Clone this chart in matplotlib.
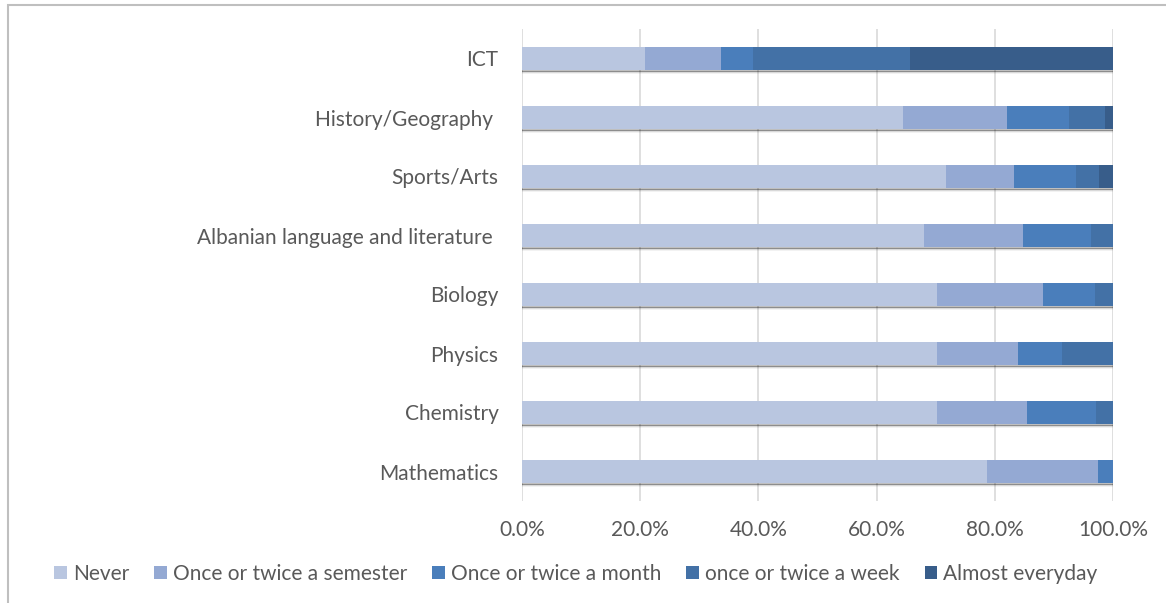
import numpy as np
import matplotlib.pyplot as plt
from matplotlib.patches import Rectangle

subjects = ["Mathematics", "Chemistry", "Physics", "Biology",
            "Albanian language and literature ", "Sports/Arts",
            "History/Geography ", "ICT"]
series_names = ["Never", "Once or twice a semester", "Once or twice a month",
                "once or twice a week", "Almost everyday"]

# shares in %, order follows `subjects`
never    = [78.6, 70.3, 70.3, 70.3, 68.1, 71.7, 64.5, 20.8]
semester = [18.9, 15.1, 13.6, 17.8, 16.6, 11.5, 17.6, 12.8]
month    = [2.5, 11.8, 7.4, 8.8, 11.6, 10.5, 10.5, 5.5]
week     = [0.0, 2.8, 8.7, 3.1, 3.7, 3.9, 6.0, 26.6]
everyday = [0.0, 0.0, 0.0, 0.0, 0.0, 2.4, 1.4, 34.3]

colors = ["#B9C6E0", "#94A9D3", "#4A7EBB", "#4371A6", "#385D8A"]
TXT = "#595959"
FS = 15

plt.rcParams['font.family'] = ['Lato', 'DejaVu Sans']

fig = plt.figure(figsize=(11.66, 6.03), dpi=100)
ax = fig.add_axes([522/1166, 1 - 501/603, (1113-522)/1166, (501-29)/603])

y = np.arange(len(subjects))
h = 0.39
data = [never, semester, month, week, everyday]
total = np.array([sum(v) for v in zip(*data)])

# soft drop shadow under each bar
for k, a in enumerate([0.25, 0.17, 0.10, 0.05]):
    ax.barh(y - h/2 - 0.012 - k*0.012, total, height=0.03, left=0,
            color='black', alpha=a, linewidth=0, zorder=2)

left = np.zeros(len(subjects))
for name, vals, c in zip(series_names, data, colors):
    ax.barh(y, vals, height=h, left=left, color=c, label=name,
            linewidth=0, zorder=3)
    left += np.array(vals)

ax.set_xlim(0, 100)
ax.set_ylim(-0.5, len(subjects) - 0.5)
ax.set_xticks(np.arange(0, 101, 20))
ax.set_xticklabels([f"{v:.1f}%" for v in np.arange(0, 101, 20)])
ax.set_yticks(y)
ax.set_yticklabels(subjects)
ax.tick_params(axis='both', length=0, labelsize=FS, colors=TXT)
ax.tick_params(axis='y', pad=17)
ax.tick_params(axis='x', pad=14)
ax.grid(axis='x', color='#D9D9D9', linewidth=1.2, zorder=0)
for s in ax.spines.values():
    s.set_visible(False)

leg = fig.legend(loc='center', bbox_to_anchor=(576/1166, 1 - 574/603), ncol=5,
                 frameon=False, fontsize=FS, handlelength=0.6,
                 handleheight=0.6, handletextpad=0.3, columnspacing=1.2)
for t in leg.get_texts():
    t.set_color(TXT)

fig.patches.append(Rectangle((8/1166, -0.1), 1.2, 1 - 5/603 + 0.1,
                             transform=fig.transFigure, fill=False,
                             edgecolor='#BFBFBF', linewidth=1.5))

fig.savefig("out.png", dpi=100)
